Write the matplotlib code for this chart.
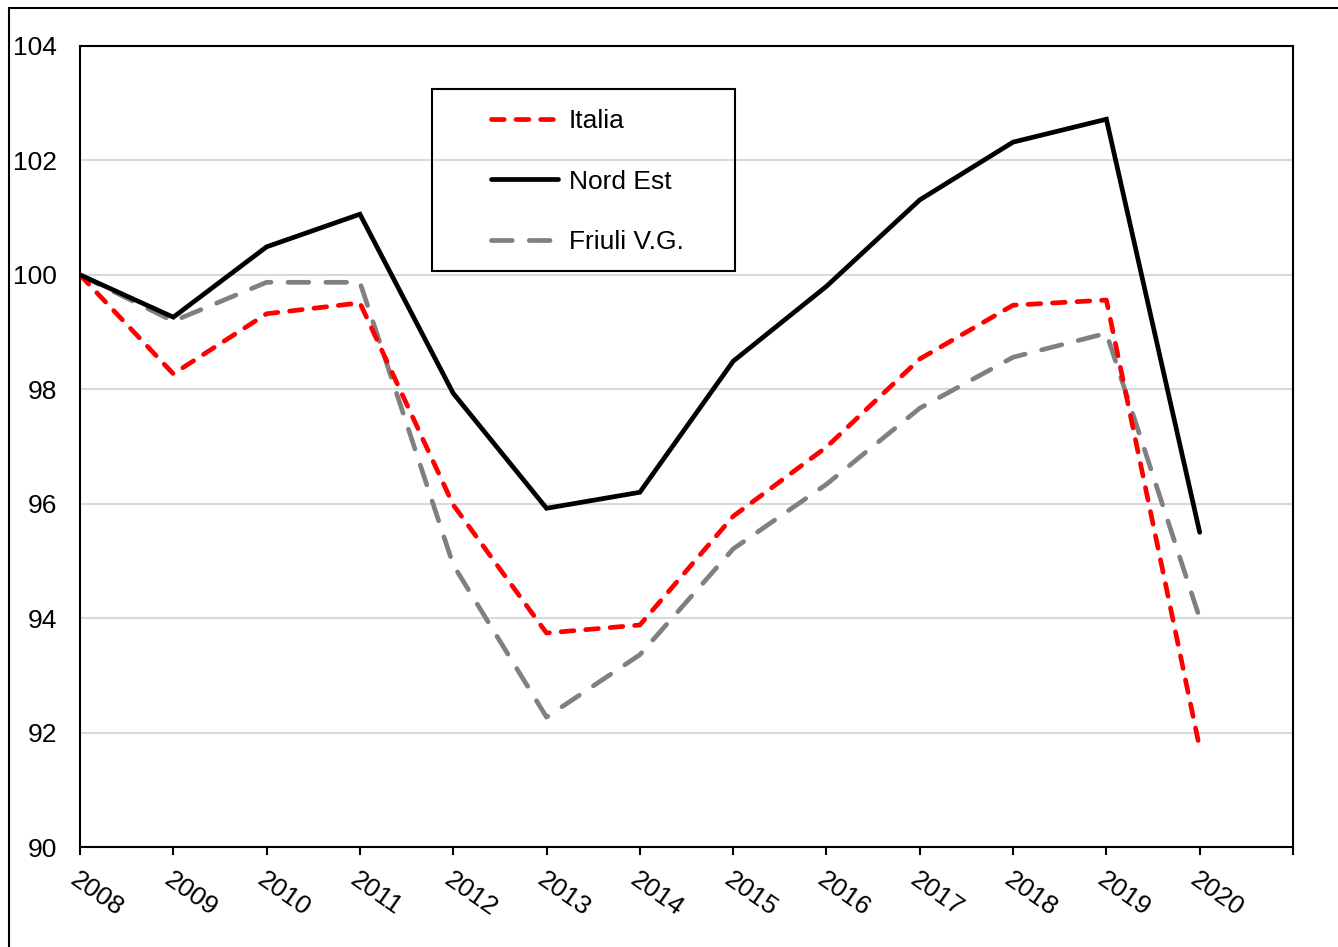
import numpy as np
import matplotlib.pyplot as plt
from matplotlib.patches import Rectangle

plt.rcParams['font.family'] = ['Liberation Sans', 'DejaVu Sans']

# Data (index 2008 = 100)
years = list(range(2008, 2021))
italia = [100.0, 98.27, 99.32, 99.51, 95.98, 93.74, 93.88, 95.78, 96.99, 98.53, 99.47, 99.56, 91.73]
nord_est = [100.0, 99.26, 100.49, 101.06, 97.93, 95.92, 96.20, 98.49, 99.80, 101.31, 102.32, 102.72, 95.50]
friuli = [100.0, 99.19, 99.87, 99.87, 94.93, 92.27, 93.36, 95.21, 96.34, 97.67, 98.56, 98.98, 94.00]

W, H = 1338, 947
fig = plt.figure(figsize=(W / 100, H / 100), dpi=100)
ax = fig.add_axes([80 / W, 1 - 847 / H, (1293 - 80) / W, (847 - 46) / H])

lw = 3.4
ax.plot(years, italia, color='#ff0000', lw=lw, dashes=(2.7, 2.5),
        dash_capstyle='round', label='Italia', zorder=3)
ax.plot(years, nord_est, color='black', lw=lw, solid_capstyle='round',
        solid_joinstyle='miter', label='Nord Est', zorder=4)
ax.plot(years, friuli, color='#808080', lw=lw, dashes=(4.4, 3.6),
        dash_capstyle='round', label='Friuli V.G.', zorder=2)

ax.set_xlim(2008, 2021)
ax.set_ylim(90, 104)
ax.set_yticks(np.arange(90, 105, 2))
ax.set_xticks(list(range(2008, 2022)))
ax.set_xticklabels([str(y) for y in years] + [''], rotation=-35, ha='left',
                   va='top', rotation_mode='anchor', fontsize=19)
ax.tick_params(axis='y', length=0, pad=16.5, labelsize=19)
ax.tick_params(axis='x', length=6, width=1.5, direction='out', pad=9)
ax.grid(axis='y', color='#d9d9d9', lw=1.5, zorder=0)
ax.set_axisbelow(True)
for s in ax.spines.values():
    s.set_linewidth(1.5)
    s.set_color('black')

# legend box drawn by hand, legend entries inside it
fig.patches.append(Rectangle((432 / W, 1 - 271 / H), (735 - 432) / W, (271 - 89) / H,
                             transform=fig.transFigure, fill=False,
                             edgecolor='black', lw=1.5, zorder=5))
leg = fig.legend(loc='upper left', bbox_to_anchor=(478 / W, 1 - 96 / H),
                 frameon=False, fontsize=19, handlelength=2.55,
                 handletextpad=0.4, labelspacing=1.38, borderpad=0)

# outer chart border
fig.patches.append(Rectangle((9 / W, -0.05), 1.2, 1 - 8 / H + 0.05,
                             transform=fig.transFigure, fill=False,
                             edgecolor='black', lw=1.5))

fig.savefig('out.png', dpi=100)
